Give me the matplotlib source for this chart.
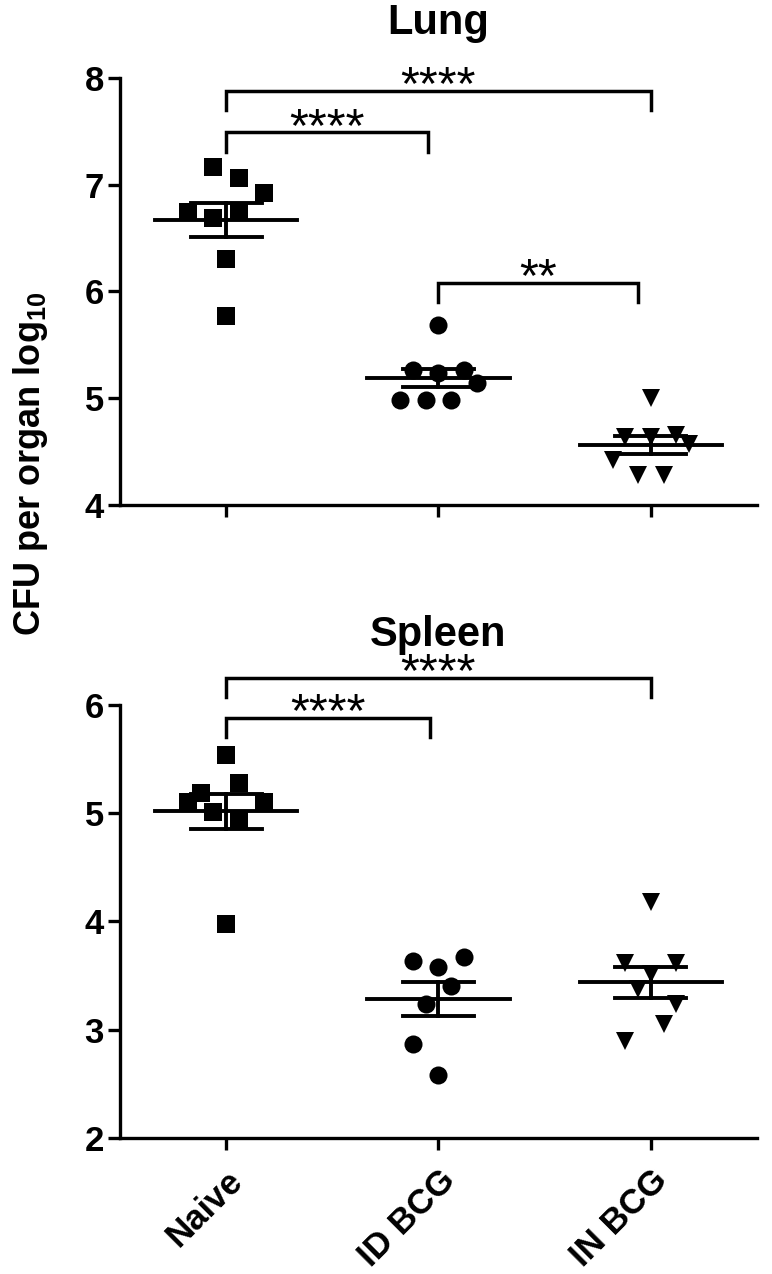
import matplotlib

matplotlib.use("Agg")
import matplotlib.pyplot as plt
import numpy as np

plt.rcParams["font.family"] = ["Liberation Sans", "DejaVu Sans"]
plt.rcParams["mathtext.fontset"] = "custom"
plt.rcParams["mathtext.rm"] = "Liberation Sans:bold"
plt.rcParams["mathtext.it"] = "Liberation Sans:bold"
plt.rcParams["mathtext.bf"] = "Liberation Sans:bold"

GROUPS = ["Naive", "ID BCG", "IN BCG"]
MARKERS = ["s", "o", "v"]
YLABEL = r"CFU per organ log$_{10}$"

# log10 CFU, lung
lung_naive = [7.17, 7.06, 6.92, 6.74, 6.69, 6.74, 6.30, 5.77]
lung_id = [5.69, 5.26, 5.24, 5.26, 5.14, 4.98, 4.98, 4.98]
lung_in = [5.00, 4.64, 4.64, 4.66, 4.57, 4.42, 4.28, 4.28]
# scatter column slot of each point (half marker steps from group centre)
lung_naive_slot = [-1, 1, 3, -3, -1, 1, 0, 0]
lung_id_slot = [0, -2, 0, 2, 3, -3, -1, 1]
lung_in_slot = [0, -2, 0, 2, 3, -3, -1, 1]

# log10 CFU, spleen
spleen_naive = [5.54, 5.28, 5.19, 5.10, 5.10, 5.01, 4.94, 3.98]
spleen_id = [3.63, 3.58, 3.67, 3.40, 3.24, 2.87, 2.58]
spleen_in = [4.18, 3.62, 3.62, 3.51, 3.38, 3.24, 3.05, 2.90]
spleen_naive_slot = [0, 1, -2, -3, 3, -1, 1, 0]
spleen_id_slot = [-2, 0, 2, 1, -1, -2, 0]
spleen_in_slot = [0, -2, 2, 0, -1, 2, 1, -2]

# significance brackets: (from, to, height, label)
lung_brackets = [(0, 2, 7.88, "****"), (0, 0.95, 7.49, "****"), (1, 1.94, 6.08, "**")]
spleen_brackets = [(0, 2, 6.25, "****"), (0, 0.96, 5.88, "****")]


def draw_panel(ax, title, title_y, values, slots, brackets, ylim, yticks, show_xlabels):
    for i, (vals, slot) in enumerate(zip(values, slots)):
        vals = np.asarray(vals)
        xs = i + np.asarray(slot) * 0.06
        ax.plot(xs, vals, linestyle="none", marker=MARKERS[i], markersize=13,
                color="black", markeredgewidth=0, clip_on=False, zorder=3)
        mean = vals.mean()
        sem = vals.std(ddof=1) / np.sqrt(len(vals))
        ax.plot([i - 0.335, i + 0.335], [mean, mean], color="black", lw=2.8, zorder=4)
        ax.plot([i, i], [mean - sem, mean + sem], color="black", lw=2.8, zorder=4)
        for y in (mean - sem, mean + sem):
            ax.plot([i - 0.167, i + 0.167], [y, y], color="black", lw=2.8, zorder=4)

    for x1, x2, y, label in brackets:
        ax.plot([x1, x1, x2, x2], [y - 0.18, y, y, y - 0.18], color="black",
                lw=2.5, clip_on=False, solid_joinstyle="miter")
        ax.annotate(label, xy=((x1 + x2) / 2, y), xytext=(0, -6), textcoords="offset points",
                    ha="center", va="baseline", fontsize=35, annotation_clip=False)

    ax.set_xlim(-0.5, 2.5)
    ax.set_ylim(*ylim)
    ax.set_yticks(yticks)
    ax.set_xticks(range(len(GROUPS)))
    if show_xlabels:
        ax.set_xticklabels(GROUPS, rotation=45, ha="right", va="top",
                           rotation_mode="anchor", fontsize=25, fontweight="bold")
    else:
        ax.set_xticklabels([])
    for lab in ax.get_yticklabels():
        lab.set_fontweight("bold")
        lab.set_fontsize(25)
    for side in ("top", "right"):
        ax.spines[side].set_visible(False)
    for side in ("left", "bottom"):
        ax.spines[side].set_linewidth(2.4)
    ax.tick_params(direction="out", length=8.5, width=2.4)
    ax.tick_params(axis="y", pad=3)
    ax.tick_params(axis="x", pad=10)
    ax.text(0.5, title_y, title, transform=ax.transAxes, ha="center", va="baseline",
            fontsize=30, fontweight="bold")


fig = plt.figure(figsize=(7.72, 12.74), dpi=100)
ax_lung = fig.add_axes([0.1554, 0.6036, 0.8252, 0.3352])
ax_spleen = fig.add_axes([0.1554, 0.1068, 0.8252, 0.3399])

draw_panel(ax_lung, "Lung", 1.103, [lung_naive, lung_id, lung_in],
           [lung_naive_slot, lung_id_slot, lung_in_slot], lung_brackets,
           (4, 8), [4, 5, 6, 7, 8], False)
draw_panel(ax_spleen, "Spleen", 1.135, [spleen_naive, spleen_id, spleen_in],
           [spleen_naive_slot, spleen_id_slot, spleen_in_slot], spleen_brackets,
           (2, 6), [2, 3, 4, 5, 6], True)

fig.text(0.039, 0.636, YLABEL, rotation=90, ha="center", va="center",
         fontsize=26, fontweight="bold")

fig.savefig("out.png", dpi=100)
